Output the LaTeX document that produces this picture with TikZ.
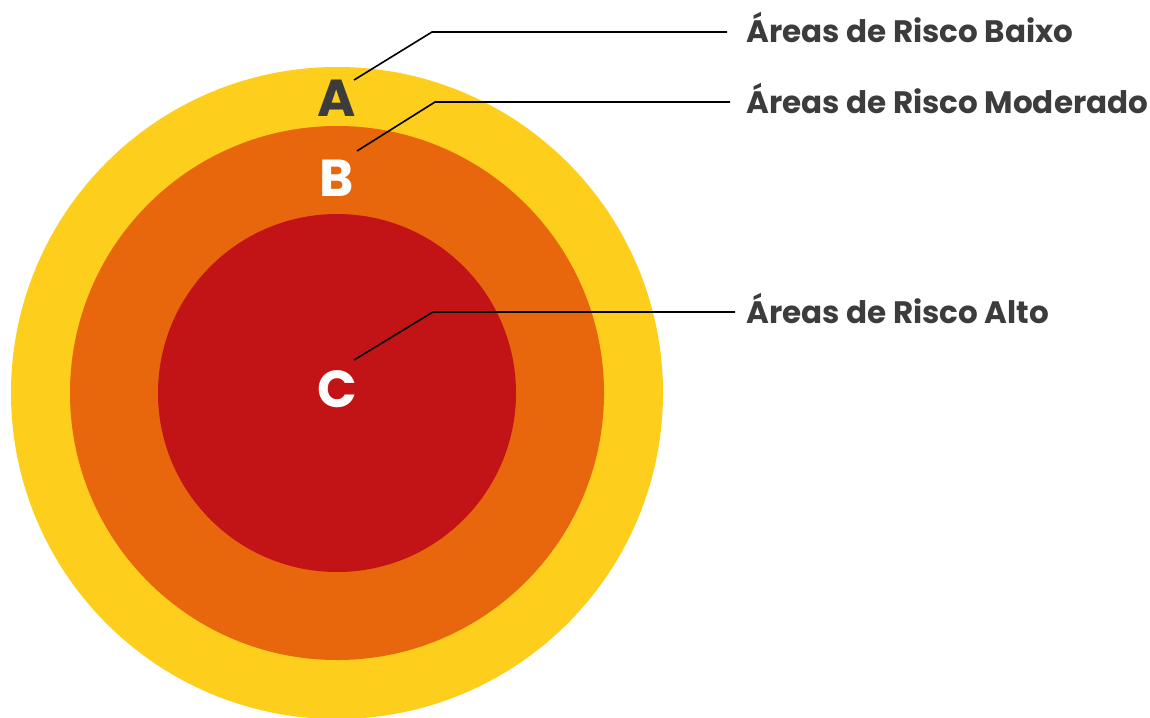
\documentclass[tikz,border=0pt]{standalone}
\usepackage{fontspec}
\setmainfont{Poppins}[UprightFont=* Bold]
\definecolor{cyel}{HTML}{FECE1D}
\definecolor{corg}{HTML}{E8670C}
\definecolor{cred}{HTML}{C21416}
\definecolor{ctxt}{HTML}{3C3C3C}
\tikzset{
  letter/.style={font=\fontsize{52}{52}\selectfont, inner sep=0pt, anchor=base},
  label/.style={font=\fontsize{31}{31}\selectfont, text=ctxt, inner sep=0pt, anchor=base west},
  leader/.style={draw=black, line width=1.6pt}
}
\begin{document}
\begin{tikzpicture}[x=1pt,y=-1pt]
\useasboundingbox (0,0) rectangle (1150,717);
\fill[cyel] (337,393) circle (326);
\fill[corg] (337,393) circle (267);
\fill[cred] (337,393) circle (179);
\node[letter, text=ctxt] (A) at (337,116) {A};
\node[letter, text=white] (B) at (337,196) {B};
\node[letter, text=white] (C) at (337,407) {C};
\coordinate (a0) at (354,80);
\coordinate (a1) at (432,32);
\coordinate (a2) at (727,32);
\coordinate (b0) at (357,151);
\coordinate (b1) at (435,102);
\coordinate (b2) at (730,102);
\coordinate (c0) at (354,360);
\coordinate (c1) at (433,312);
\coordinate (c2) at (735,312);
\draw[leader] (a0) -- (a1) -- (a2);
\draw[leader] (b0) -- (b1) -- (b2);
\draw[leader] (c0) -- (c1) -- (c2);
\node[label] (la) at (746,42) {Áreas de Risco Baixo};
\node[label] (lb) at (746,113) {Áreas de Risco Moderado};
\node[label] (lc) at (746,323) {Áreas de Risco Alto};
\end{tikzpicture}
\end{document}
